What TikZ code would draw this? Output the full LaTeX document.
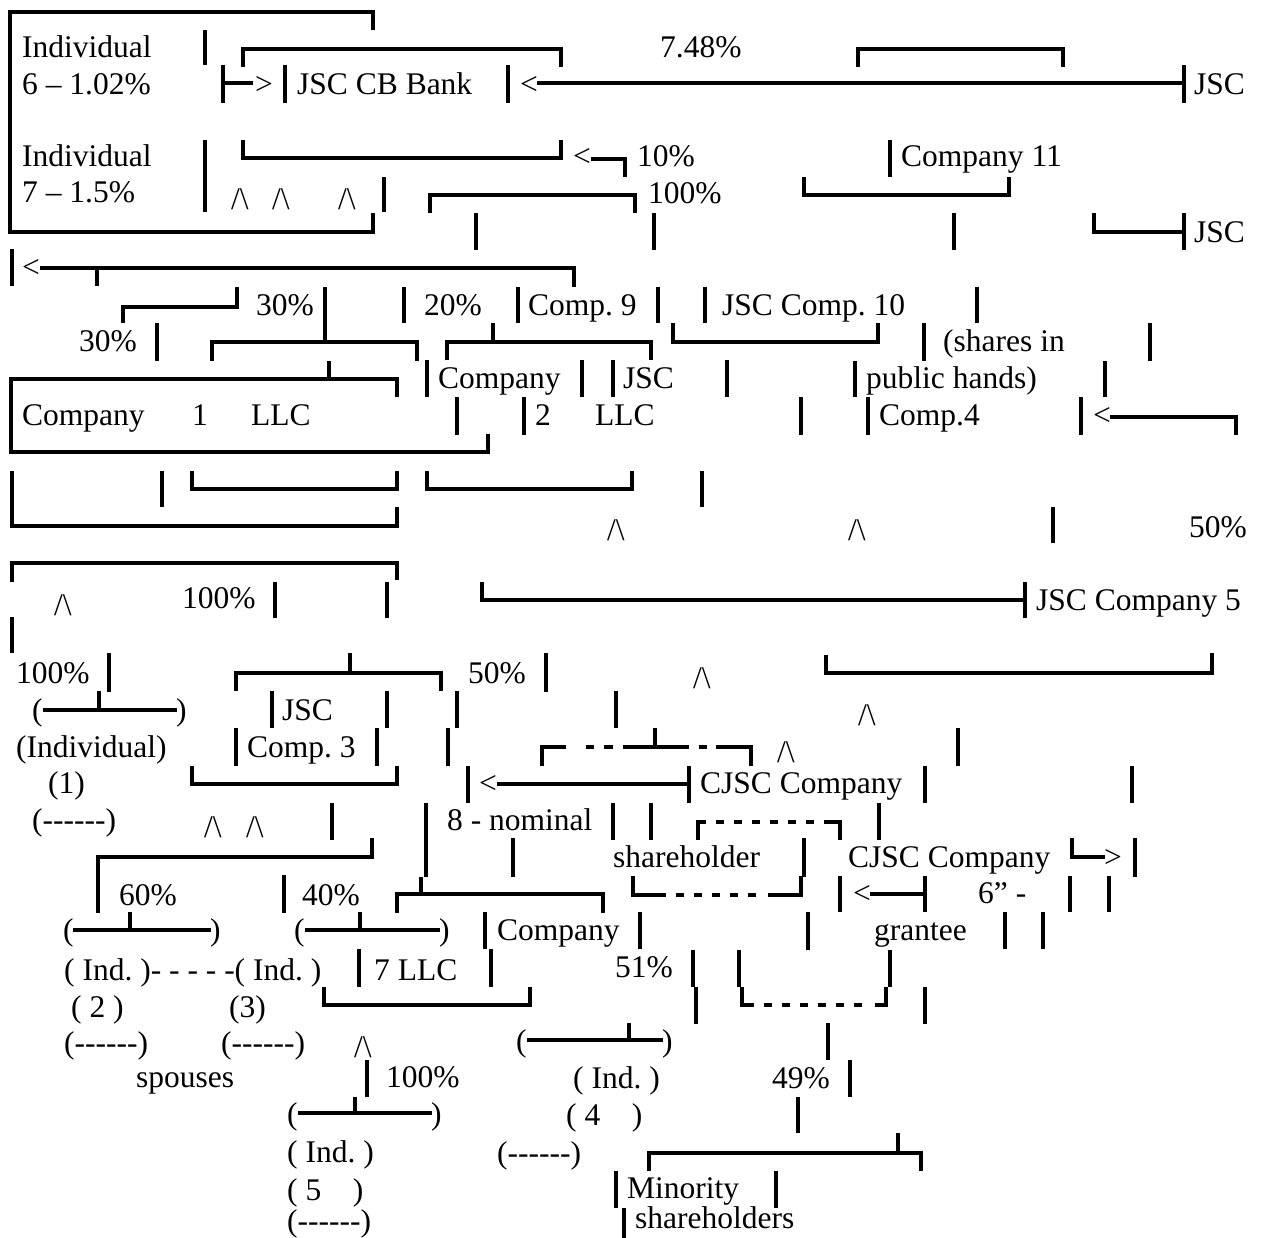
\documentclass[tikz,border=0pt]{standalone}
\usepackage{fontspec}
\setmainfont{Liberation Serif}[Ligatures=TeXOff]

\begin{document}
\frenchspacing
\begin{tikzpicture}[
  x=1pt,y=-1pt,
  font=\fontsize{31.5}{36}\selectfont,
  ln/.style={line width=3.1pt},
  dl/.style={line width=3.1pt,dash pattern=on 8pt off 10pt},
  lbl/.style={anchor=base west,inner sep=0pt},
  pk/.style={lbl}
]
\useasboundingbox (0,0) rectangle (1263,1238);

% --- top block: individuals 6 and 7, the bank, JSC
\draw[ln] (373,30) -- (373,12) -- (10,12) -- (10,232) -- (373,232) -- (373,213);
\node[lbl] (ind6) at (22,58) {Individual};
\node[lbl] (ind6p) at (22,95) {6 – 1.02\%};
\node[lbl] (ind7) at (22,167) {Individual};
\node[lbl] (ind7p) at (22,203) {7 – 1.5\%};
\draw[ln] (205,30) -- (205,65);
\draw[ln] (205,140) -- (205,212);
\draw[ln] (223,65) -- (223,103);
\draw[ln] (223,83) -- (253,83);
\node[lbl] (gtA) at (255,95) {>};
\draw[ln] (285,65) -- (285,103);
\node[lbl] (bank) at (297,95) {JSC CB Bank};
\draw[ln] (243,67) -- (243,49) -- (561,49) -- (561,67);
\draw[ln] (243,140) -- (243,158) -- (561,158) -- (561,140);
\draw[ln] (508,65) -- (508,103);
\node[lbl] (ltA) at (520,95) {<};
\draw[ln] (537,83) -- (1184,83);
\draw[ln] (1184,65) -- (1184,103);
\node[lbl] (jscA) at (1194,95) {JSC};
\node[lbl] (pctA) at (660,58) {7.48\%};
\draw[ln] (858,67) -- (858,49) -- (1063,49) -- (1063,67);
\node[lbl] (ltB) at (573,167) {<};
\draw[ln] (591,159) -- (625,159) -- (625,177);
\node[lbl] (pctB) at (637,167) {10\%};
\draw[ln] (890,140) -- (890,177);
\node[lbl] (co11) at (901,167) {Company 11};
\draw[ln] (804,177) -- (804,195) -- (1009,195) -- (1009,177);
\node[pk] (pk1) at (231,210) {/\textbackslash};
\node[pk] (pk2) at (272,210) {/\textbackslash};
\node[pk] (pk3) at (338,210) {/\textbackslash};
\draw[ln] (384,177) -- (384,212);
\draw[ln] (430,213) -- (430,195) -- (635,195) -- (635,213);
\node[lbl] (pctC) at (648,204) {100\%};
\draw[ln] (476,213) -- (476,250);
\draw[ln] (654,213) -- (654,250);
\draw[ln] (954,213) -- (954,250);
\draw[ln] (1094,213) -- (1094,232) -- (1184,232);
\draw[ln] (1184,213) -- (1184,250);
\node[lbl] (jscB) at (1194,243) {JSC};

% --- second block: companies 9, 10, 1, 2, 4
\draw[ln] (12,249) -- (12,286);
\node[lbl] (ltC) at (22,278) {<};
\draw[ln] (40,268) -- (574,268) -- (574,287);
\draw[ln] (97,268) -- (97,286);
\draw[ln] (123,323) -- (123,307) -- (237,307) -- (237,287);
\node[lbl] (pctD) at (256,316) {30\%};
\draw[ln] (325,287) -- (325,342);
\draw[ln] (404,287) -- (404,323);
\node[lbl] (pctE) at (424,316) {20\%};
\draw[ln] (518,287) -- (518,323);
\node[lbl] (co9) at (528,316) {Comp. 9};
\draw[ln] (658,287) -- (658,323);
\draw[ln] (705,287) -- (705,323);
\node[lbl] (co10) at (722,316) {JSC Comp. 10};
\draw[ln] (977,287) -- (977,323);
\node[lbl] (pctF) at (79,352) {30\%};
\draw[ln] (157,323) -- (157,361);
\draw[ln] (212,361) -- (212,342) -- (417,342) -- (417,361);
\draw[ln] (447,360) -- (447,342) -- (651,342) -- (651,360);
\draw[ln] (493,323) -- (493,342);
\draw[ln] (673,323) -- (673,342) -- (878,342) -- (878,323);
\draw[ln] (924,323) -- (924,361);
\node[lbl] (pub1) at (943,352) {(shares in};
\draw[ln] (1150,323) -- (1150,361);
\draw[ln] (329,361) -- (329,379);
\draw[ln] (397,397) -- (397,379) -- (11,379) -- (11,452) -- (488,452) -- (488,434);
\draw[ln] (427,360) -- (427,397);
\node[lbl] (co2a) at (438,388) {Company};
\draw[ln] (582,360) -- (582,397);
\draw[ln] (613,360) -- (613,397);
\node[lbl] (co2b) at (623,388) {JSC};
\draw[ln] (727,360) -- (727,397);
\draw[ln] (855,361) -- (855,397);
\node[lbl] (pub2) at (866,388) {public hands)};
\draw[ln] (1105,361) -- (1105,397);
\node[lbl] (co1a) at (22,425) {Company};
\node[lbl] (co1b) at (192,425) {1};
\node[lbl] (co1c) at (251,425) {LLC};
\draw[ln] (457,397) -- (457,435);
\draw[ln] (524,397) -- (524,435);
\node[lbl] (co2c) at (535,425) {2};
\node[lbl] (co2d) at (595,425) {LLC};
\draw[ln] (801,397) -- (801,435);
\draw[ln] (868,397) -- (868,435);
\node[lbl] (co4) at (879,425) {Comp.4};
\draw[ln] (1081,397) -- (1081,435);
\node[lbl] (ltD) at (1093,425) {<};
\draw[ln] (1110,417) -- (1236,417) -- (1236,435);

% --- third block: company 5
\draw[ln] (12,471) -- (12,526) -- (397,526) -- (397,507);
\draw[ln] (162,471) -- (162,507);
\draw[ln] (192,471) -- (192,489) -- (397,489) -- (397,471);
\draw[ln] (427,471) -- (427,489) -- (632,489) -- (632,471);
\draw[ln] (702,471) -- (702,507);
\node[pk] (pk4) at (607,540) {/\textbackslash};
\node[pk] (pk5) at (848,540) {/\textbackslash};
\draw[ln] (1053,507) -- (1053,543);
\node[lbl] (pctG) at (1189,537) {50\%};
\draw[ln] (12,582) -- (12,563) -- (397,563) -- (397,580);
\node[pk] (pk6) at (54,615) {/\textbackslash};
\node[lbl] (pctH) at (182,608) {100\%};
\draw[ln] (275,582) -- (275,618);
\draw[ln] (387,582) -- (387,618);
\draw[ln] (482,582) -- (482,600) -- (1025,600);
\draw[ln] (1025,582) -- (1025,618);
\node[lbl] (co5) at (1036,610) {JSC Company 5};
\draw[ln] (12,617) -- (12,653);

% --- fourth block: company 3, CJSC companies, company 8
\node[lbl] (pctI) at (16,683) {100\%};
\draw[ln] (109,653) -- (109,692);
\draw[ln] (236,691) -- (236,673) -- (441,673) -- (441,691);
\draw[ln] (350,653) -- (350,673);
\node[lbl] (pctJ) at (468,683) {50\%};
\draw[ln] (546,653) -- (546,692);
\node[pk] (pk7) at (693,688) {/\textbackslash};
\draw[ln] (826,655) -- (826,673) -- (1212,673) -- (1212,653);
\node[lbl] (i1a) at (32,720) {(};
\draw[ln] (43,710) -- (177,710);
\draw[ln] (99,691) -- (99,710);
\node[lbl] (i1b) at (176,720) {)};
\draw[ln] (272,691) -- (272,728);
\node[lbl] (co3a) at (282,720) {JSC};
\draw[ln] (387,691) -- (387,728);
\draw[ln] (457,691) -- (457,728);
\draw[ln] (616,691) -- (616,728);
\node[pk] (pk8) at (858,725) {/\textbackslash};
\node[lbl] (i1c) at (16,757) {(Individual)};
\draw[ln] (236,728) -- (236,766);
\node[lbl] (co3b) at (247,757) {Comp. 3};
\draw[ln] (377,728) -- (377,766);
\draw[ln] (448,728) -- (448,766);
\draw[ln] (542,766) -- (542,747) -- (566,747);
\draw[ln] (586,747) -- (594,747);
\draw[ln] (604,747) -- (613,747);
\draw[ln] (623,747) -- (689,747);
\draw[ln] (655,728) -- (655,747);
\draw[ln] (699,747) -- (707,747);
\draw[ln] (716,747) -- (751,747) -- (751,766);
\node[pk] (pk9) at (777,762) {/\textbackslash};
\draw[ln] (958,728) -- (958,766);
\node[lbl] (i1d) at (48,793) {(1)};
\draw[ln] (192,766) -- (192,784) -- (397,784) -- (397,766);
\draw[ln] (468,766) -- (468,803);
\node[lbl] (ltE) at (479,793) {<};
\draw[ln] (497,784) -- (689,784);
\draw[ln] (689,766) -- (689,803);
\node[lbl] (cjA) at (700,793) {CJSC Company};
\draw[ln] (925,766) -- (925,803);
\draw[ln] (1132,766) -- (1132,803);
\node[lbl] (i1e) at (32,830) {(------)};
\node[pk] (pk10) at (204,837) {/\textbackslash};
\node[pk] (pk11) at (246,837) {/\textbackslash};
\draw[ln] (332,803) -- (332,840);
\draw[ln] (426,803) -- (426,877);
\node[lbl] (nomA) at (447,830) {8 - nominal};
\draw[ln] (613,803) -- (613,840);
\draw[ln] (651,803) -- (651,840);
\draw[ln] (698,840) -- (698,822) -- (706,822);
\draw[dl] (716,822) -- (832,822);
\draw[ln] (832,822) -- (840,822) -- (840,840);
\draw[ln] (879,803) -- (879,840);
\draw[ln] (98,913) -- (98,857) -- (372,857) -- (372,838);
\draw[ln] (513,838) -- (513,877);
\node[lbl] (nomB) at (613,867) {shareholder};
\draw[ln] (804,838) -- (804,877);
\node[lbl] (cjB) at (848,867) {CJSC Company};
\draw[ln] (1072,838) -- (1072,857) -- (1105,857);
\node[lbl] (gtB) at (1104,867) {>};
\draw[ln] (1135,838) -- (1135,877);
\node[lbl] (pctK) at (119,905) {60\%};
\draw[ln] (284,875) -- (284,913);
\node[lbl] (pctL) at (302,905) {40\%};
\draw[ln] (397,913) -- (397,894) -- (603,894) -- (603,913);
\draw[ln] (421,877) -- (421,894);
\draw[ln] (633,876) -- (633,895) -- (666,895);
\draw[dl] (676,895) -- (760,895);
\draw[ln] (768,895) -- (801,895) -- (801,876);
\draw[ln] (840,876) -- (840,912);
\node[lbl] (ltF) at (853,903) {<};
\draw[ln] (870,894) -- (925,894);
\draw[ln] (925,876) -- (925,912);
\node[lbl] (grA) at (978,903) {6” -};
\draw[ln] (1070,876) -- (1070,912);
\draw[ln] (1109,876) -- (1109,912);

% --- bottom block: individuals 2 to 5, company 7, minority
\node[lbl] (i2a) at (63,940) {(};
\draw[ln] (73,930) -- (211,930);
\draw[ln] (130,912) -- (130,930);
\node[lbl] (i2b) at (210,940) {)};
\node[lbl] (i3a) at (294,940) {(};
\draw[ln] (305,930) -- (440,930);
\draw[ln] (360,912) -- (360,930);
\node[lbl] (i3b) at (439,940) {)};
\draw[ln] (485,912) -- (485,949);
\node[lbl] (co7a) at (497,940) {Company};
\draw[ln] (640,912) -- (640,949);
\draw[ln] (808,912) -- (808,950);
\node[lbl] (grB) at (874,940) {grantee};
\draw[ln] (1005,912) -- (1005,949);
\draw[ln] (1043,912) -- (1043,949);
\node[lbl] (i23) at (64,980) {( Ind. )- - - - -( Ind. )};
\draw[ln] (359,949) -- (359,987);
\node[lbl] (co7b) at (374,980) {7 LLC};
\draw[ln] (491,949) -- (491,987);
\node[lbl] (pctM) at (615,977) {51\%};
\draw[ln] (693,950) -- (693,987);
\draw[ln] (739,950) -- (739,987);
\draw[ln] (742,987) -- (742,1005) -- (754,1005);
\draw[dl] (764,1005) -- (866,1005);
\draw[ln] (875,1005) -- (886,1005) -- (886,987);
\draw[ln] (890,950) -- (890,987);
\draw[ln] (324,987) -- (324,1005) -- (530,1005) -- (530,987);
\node[lbl] (i2c) at (71,1017) {( 2 )};
\node[lbl] (i3c) at (229,1017) {(3)};
\draw[ln] (696,987) -- (696,1024);
\draw[ln] (925,987) -- (925,1024);
\node[lbl] (i2d) at (64,1053) {(------)};
\node[lbl] (i3d) at (221,1053) {(------)};
\node[pk] (pk12) at (354,1057) {/\textbackslash};
\node[lbl] (i4a) at (516,1051) {(};
\draw[ln] (527,1040) -- (663,1040);
\draw[ln] (629,1023) -- (629,1040);
\node[lbl] (i4b) at (662,1051) {)};
\draw[ln] (828,1023) -- (828,1060);
\node[lbl] (spo) at (136,1087) {spouses};
\draw[ln] (367,1060) -- (367,1097);
\node[lbl] (pctN) at (386,1087) {100\%};
\node[lbl] (i4c) at (573,1088) {( Ind. )};
\node[lbl] (pctO) at (772,1088) {49\%};
\draw[ln] (850,1060) -- (850,1097);
\node[lbl] (i5a) at (287,1124) {(};
\draw[ln] (298,1113) -- (432,1113);
\draw[ln] (355,1097) -- (355,1113);
\node[lbl] (i5b) at (431,1124) {)};
\node[lbl] (i4d) at (566,1125) {( 4\ \ \ \ )};
\draw[ln] (798,1097) -- (798,1133);
\node[lbl] (i5c) at (287,1162) {( Ind. )};
\node[lbl] (i4e) at (497,1163) {(------)};
\draw[ln] (649,1171) -- (649,1153) -- (921,1153) -- (921,1171);
\draw[ln] (898,1133) -- (898,1153);
\node[lbl] (i5d) at (287,1200) {( 5\ \ \ \ )};
\draw[ln] (616,1171) -- (616,1208);
\node[lbl] (minA) at (627,1198) {Minority};
\draw[ln] (776,1171) -- (776,1208);
\node[lbl] (i5e) at (287,1231) {(------)};
\draw[ln] (624,1208) -- (624,1238);
\node[lbl] (minB) at (635,1228) {shareholders};
\end{tikzpicture}
\end{document}
